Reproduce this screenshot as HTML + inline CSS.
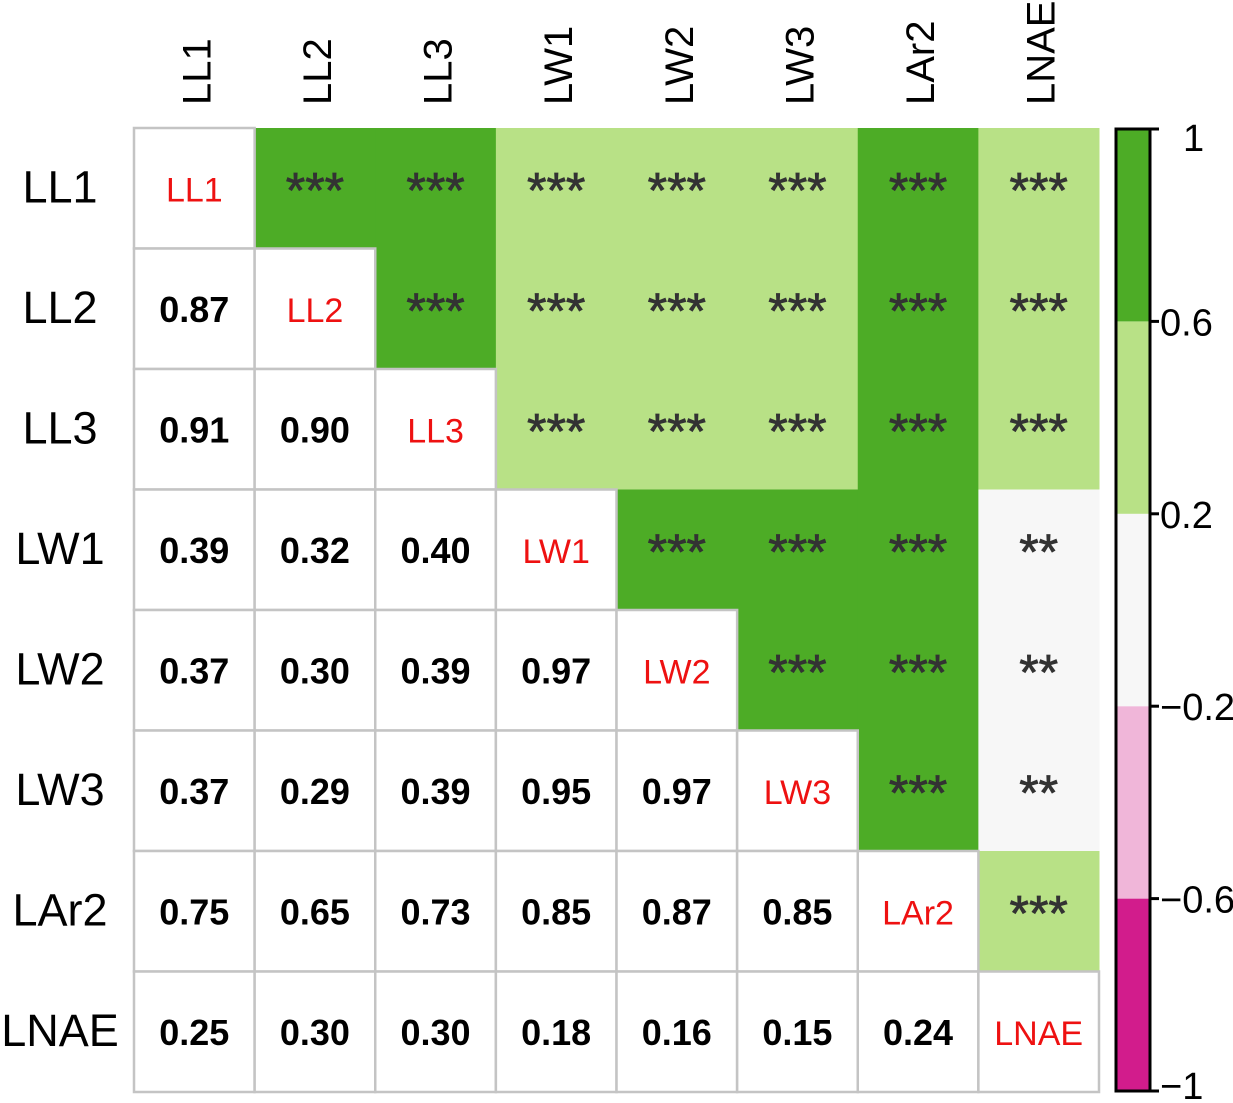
<!DOCTYPE html>
<html><head><meta charset="utf-8"><style>
body{margin:0;background:#fff;}
svg{display:block;font-family:"Liberation Sans",Arial,sans-serif;}
</style></head><body>
<svg id="chart" width="1233" height="1103" viewBox="0 0 1233 1103"></svg>
<script>
const labels = ["LL1","LL2","LL3","LW1","LW2","LW3","LAr2","LNAE"];
const corr = [
 [1,0.87,0.91,0.39,0.37,0.37,0.75,0.25],
 [0.87,1,0.90,0.32,0.30,0.29,0.65,0.30],
 [0.91,0.90,1,0.40,0.39,0.39,0.73,0.30],
 [0.39,0.32,0.40,1,0.97,0.95,0.85,0.18],
 [0.37,0.30,0.39,0.97,1,0.97,0.87,0.16],
 [0.37,0.29,0.39,0.95,0.97,1,0.85,0.15],
 [0.75,0.65,0.73,0.85,0.87,0.85,1,0.24],
 [0.25,0.30,0.30,0.18,0.16,0.15,0.24,1]
];
const stars = [
 ["","***","***","***","***","***","***","***"],
 ["","","***","***","***","***","***","***"],
 ["","","","***","***","***","***","***"],
 ["","","","","***","***","***","**"],
 ["","","","","","***","***","**"],
 ["","","","","","","***","**"],
 ["","","","","","","","***"],
 ["","","","","","","",""]
];
const breaks = [-1,-0.6,-0.2,0.2,0.6,1];
const bandColors = ["#d21c8c","#f0b6d9","#f7f7f7","#b8e186","#4dac26"];
const cbTicks = [-1,-0.6,-0.2,0.2,0.6,1];
const cbTickLabels = ["\u22121","\u22120.6","\u22120.2","0.2","0.6","1"];

const NS="http://www.w3.org/2000/svg";
const svg=document.getElementById("chart");
function mk(tag,attrs,parent){const e=document.createElementNS(NS,tag);for(const k in attrs)e.setAttribute(k,attrs[k]);(parent||svg).appendChild(e);return e;}
const x0=134,y0=128,W=965,H=964,n=labels.length,cw=W/n,ch=H/n;
const xPos=i=>x0+i*cw, yPos=i=>y0+i*ch;
function colorFor(v){for(let k=0;k<bandColors.length;k++){if(v<=breaks[k+1])return bandColors[k];}return bandColors[bandColors.length-1];}

for(let r=0;r<n;r++)for(let c=r+1;c<n;c++){
  const rect=mk("rect",{x:xPos(c),y:yPos(r),width:cw+0.5,height:ch+0.5,fill:colorFor(corr[r][c])});
  
  
  const t=mk("text",{x:xPos(c)+cw/2,y:yPos(r)+ch/2+19,"text-anchor":"middle","font-size":"50",fill:"#333",stroke:"#333","stroke-width":"0.8"});
  t.textContent=stars[r][c];
  
  
}
for(let r=0;r<n;r++)for(let c=0;c<=r;c++){
  const rect=mk("rect",{x:xPos(c),y:yPos(r),width:cw,height:ch,fill:"#fff",stroke:"#c4c4c4","stroke-width":"2.5"});
  
  
  const t=mk("text",{x:xPos(c)+cw/2,y:yPos(r)+ch/2+13,"text-anchor":"middle","font-size":r===c?"34":"36"});
  if(r===c){t.setAttribute("fill","#ee1111");t.textContent=labels[r];}
  else{t.setAttribute("font-weight","bold");t.textContent=corr[r][c].toFixed(2);}
  
  
}
for(let r=0;r<n;r++){
  const t=mk("text",{x:60,y:yPos(r)+ch/2+14,"text-anchor":"middle","font-size":"45"});
  t.textContent=labels[r];
  
  
}
for(let c=0;c<n;c++){
  const cx=xPos(c)+cw/2+16;
  const t=mk("text",{x:cx,y:105,"text-anchor":"start","font-size":"40",transform:"rotate(-90 "+cx+" 105)"});
  t.textContent=labels[c];
  
  
}
const cbx=1116,cbw=34,cbTop=129,cbBot=1091;
const cbY=v=>cbBot-(v-(-1))/2*(cbBot-cbTop);
for(let k=0;k<bandColors.length;k++){
  const r=mk("rect",{x:cbx,y:cbY(breaks[k+1]),width:cbw,height:cbY(breaks[k])-cbY(breaks[k+1]),fill:bandColors[k]});
  
  
}
const frame=mk("rect",{x:cbx,y:cbTop,width:cbw,height:cbBot-cbTop,fill:"none",stroke:"#000","stroke-width":"3"});


cbTicks.forEach((v,i)=>{
  const y=cbY(v);
  const l=mk("line",{x1:cbx+cbw,x2:cbx+cbw+9,y1:y,y2:y,stroke:"#000","stroke-width":"3"});
  
  
  const t=mk("text",{x:cbx+cbw+10,y:y+14,"font-size":"38"});
  if(v===1){t.setAttribute("x",cbx+cbw+33);t.setAttribute("y",y+22);}
  if(v===-1){t.setAttribute("y",y+8);}
  t.textContent=cbTickLabels[i];
  
  
});
</script>
</body></html>
